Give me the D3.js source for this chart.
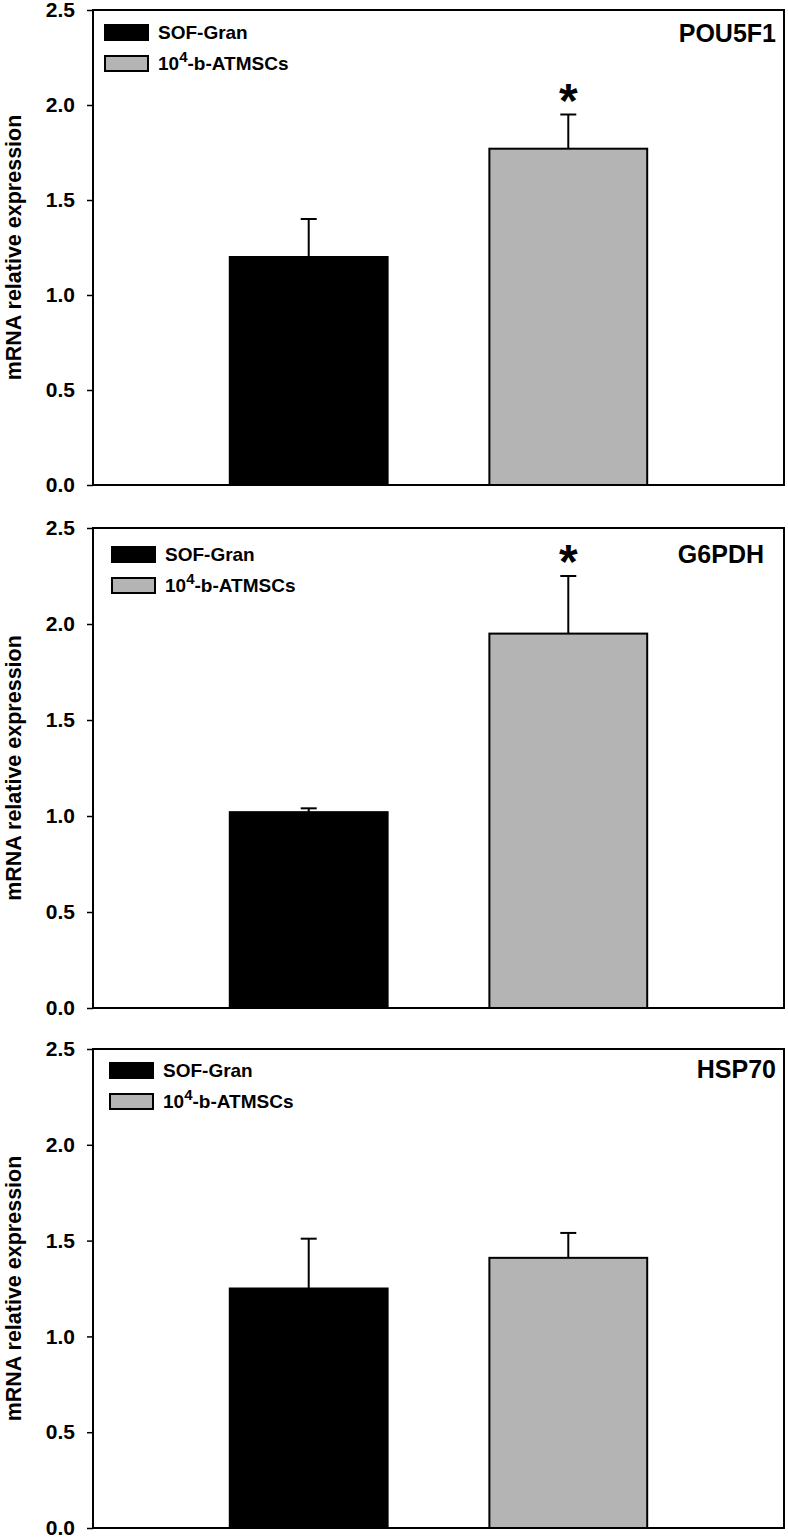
<!DOCTYPE html>
<html><head><meta charset="utf-8">
<script src="https://cdn.jsdelivr.net/npm/d3@7"></script>
<style>body{margin:0;background:#fff}svg{display:block}text{font-family:"Liberation Sans",Arial,sans-serif;font-weight:bold}</style>
</head><body>
<script>
const genes = ["POU5F1", "G6PDH", "HSP70"];
const groups = ["SOF-Gran", "10^4-b-ATMSCs"];
const sofGran = [1.20, 1.02, 1.25];
const sofGranErr = [0.20, 0.02, 0.26];
const atmsc = [1.77, 1.95, 1.41];
const atmscErr = [0.18, 0.30, 0.13];
const significant = [true, true, false];
const yTicks = [0, 0.5, 1.0, 1.5, 2.0, 2.5];
const yLabel = "mRNA relative expression";

const W = 788, H = 1537;
const svg = d3.select("body").append("svg").attr("width", W).attr("height", H);
const left = 93, right = 784;
const tops = [10, 528, 1049], bottoms = [485, 1008, 1528];
const legendOff = [[12, 15], [19, 19], [17, 14]];
const titlePos = [[776, 32], [764, 35], [776, 29]];
const fills = ["#000000", "#b4b4b4"];

const x = d3.scaleBand().domain(groups).range([left, right]).paddingInner(0.392).paddingOuter(0.527);

genes.forEach((g, i) => {
  const y = d3.scaleLinear().domain([0, 2.5]).range([bottoms[i], tops[i]]);
  const p = svg.append("g");
  const vals = [sofGran[i], atmsc[i]];
  const errs = [sofGranErr[i], atmscErr[i]];

  // bars
  p.selectAll("rect.bar").data(groups).join("rect")
    .attr("x", d => x(d)).attr("width", x.bandwidth())
    .attr("y", (d, j) => y(vals[j])).attr("height", (d, j) => y(0) - y(vals[j]))
    .attr("fill", (d, j) => fills[j]).attr("stroke", "#000").attr("stroke-width", 2);

  // error bars
  groups.forEach((d, j) => {
    const cx = x(d) + x.bandwidth() / 2;
    p.append("line").attr("x1", cx).attr("x2", cx).attr("y1", y(vals[j])).attr("y2", y(vals[j] + errs[j]))
      .attr("stroke", "#000").attr("stroke-width", 2);
    p.append("line").attr("x1", cx - 8).attr("x2", cx + 8).attr("y1", y(vals[j] + errs[j])).attr("y2", y(vals[j] + errs[j]))
      .attr("stroke", "#000").attr("stroke-width", 2);
  });

  if (significant[i]) {
    const cx = x(groups[1]) + x.bandwidth() / 2;
    p.append("text").attr("x", cx).attr("y", y(atmsc[i] + atmscErr[i]) + 2)
      .attr("text-anchor", "middle").attr("font-size", 48).text("*");
  }

  // frame
  p.append("rect").attr("x", left).attr("y", tops[i]).attr("width", right - left).attr("height", bottoms[i] - tops[i])
    .attr("fill", "none").attr("stroke", "#000").attr("stroke-width", 2);

  // y axis
  const ax = p.append("g").attr("transform", `translate(${left},0)`)
    .call(d3.axisLeft(y).tickValues(yTicks).tickFormat(d3.format(".1f")).tickSize(6).tickPadding(12));
  ax.select(".domain").remove();
  ax.selectAll(".tick line").attr("stroke-width", 1.5);
  ax.selectAll(".tick text").attr("font-size", 21).attr("font-family", "Liberation Sans, Arial, sans-serif").attr("font-weight", "bold").attr("fill", "#000");

  // y label
  p.append("text").attr("transform", `translate(21,${(tops[i] + bottoms[i]) / 2}) rotate(-90)`)
    .attr("text-anchor", "middle").attr("font-size", 21.5).text(yLabel);

  // title
  p.append("text").attr("x", titlePos[i][0]).attr("y", tops[i] + titlePos[i][1])
    .attr("text-anchor", "end").attr("font-size", 25).text(g);

  // legend
  const lx = left + legendOff[i][0], ly = tops[i] + legendOff[i][1];
  groups.forEach((d, j) => {
    p.append("rect").attr("x", lx).attr("y", ly + j * 31).attr("width", 43).attr("height", 15)
      .attr("fill", fills[j]).attr("stroke", "#000").attr("stroke-width", 2);
    const t = p.append("text").attr("x", lx + 53).attr("y", ly + j * 31 + 14).attr("font-size", 19);
    if (d.includes("^")) {
      const [base, rest] = d.split("^");
      t.append("tspan").text(base);
      t.append("tspan").attr("dy", -8).attr("font-size", 15).text(rest[0]);
      t.append("tspan").attr("dy", 8).attr("font-size", 19).text(rest.slice(1));
    } else t.text(d);
  });
});
</script>
</body></html>
